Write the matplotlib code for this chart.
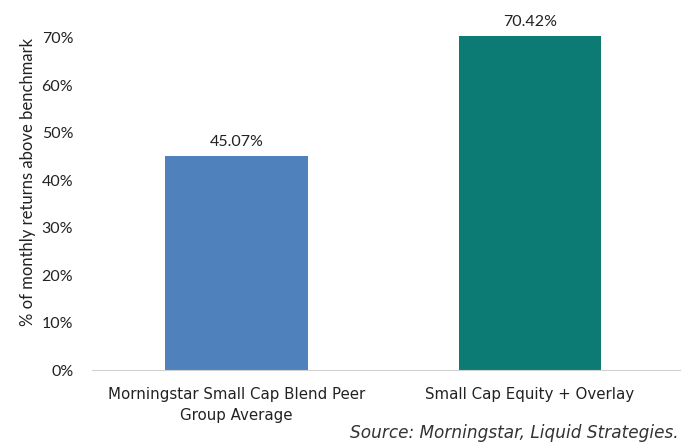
import matplotlib
matplotlib.use("Agg")
import matplotlib.pyplot as plt
from matplotlib.ticker import PercentFormatter

categories = ["Morningstar Small Cap Blend Peer\nGroup Average", "Small Cap Equity + Overlay"]
values = [0.4507, 0.7042]
colors = ["#4F81BD", "#0B7B74"]
y_ticks = [0.0, 0.1, 0.2, 0.3, 0.4, 0.5, 0.6, 0.7]

plt.rcParams["font.family"] = ["Lato", "DejaVu Sans"]
narrow = ["Liberation Sans Narrow", "DejaVu Sans"]

fig = plt.figure(figsize=(6.83, 4.42), dpi=100)
ax = fig.add_axes([92 / 683, 72 / 442, 588 / 683, 334 / 442])

x = range(len(categories))
bars = ax.bar(x, values, width=0.487, color=colors, zorder=2)
for bar, v in zip(bars, values):
    ax.annotate(f"{v * 100:.2f}%", (bar.get_x() + bar.get_width() / 2, v),
                xytext=(0, 7.5), textcoords="offset points",
                ha="center", va="baseline", fontsize=11.5, color="#222222",
                annotation_clip=False)

ax.set_xlim(-0.492, 1.511)
ax.set_ylim(0, 0.7042)
ax.set_yticks(y_ticks)
ax.yaxis.set_major_formatter(PercentFormatter(1.0, decimals=0))
ax.set_xticks(list(x))
ax.set_xticklabels(categories, fontsize=10.8, color="#222222", family=narrow,
                   linespacing=1.55)
ax.tick_params(axis="y", length=0, labelsize=11.5, labelcolor="#222222", pad=13.5)
ax.tick_params(axis="x", length=0, pad=12)

for side in ("top", "right", "left"):
    ax.spines[side].set_visible(False)
ax.spines["bottom"].set_color("#D0D0D0")

fig.text(28 / 683, 1 - 182 / 442, "% of monthly returns above benchmark", rotation=90,
         ha="center", va="center", fontsize=12, color="#222222")

fig.text(0.993, 0.0, "Source: Morningstar, Liquid Strategies.", ha="right", va="bottom",
         fontsize=12.2, style="italic", color="#333333", family=narrow)

fig.savefig("out.png", dpi=100)
